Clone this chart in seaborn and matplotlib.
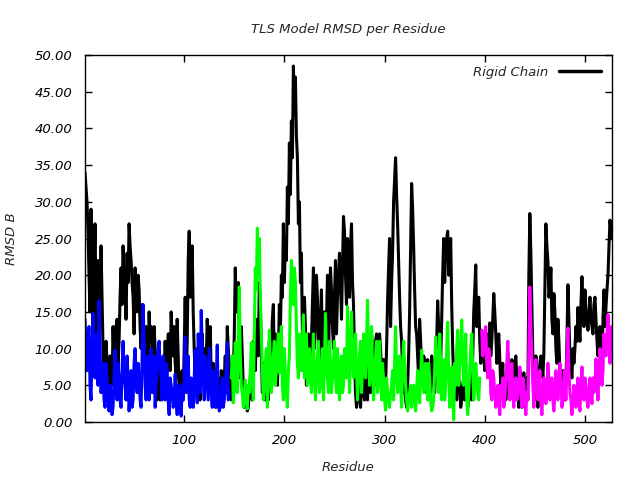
import numpy as np
import pandas as pd
import matplotlib
matplotlib.use("Agg")
import matplotlib.pyplot as plt
import seaborn as sns

# ---- data: RMSD per residue ----
# "odd" lists hold residues start, start+2, ...; "even" lists hold the residues in between.
rigid_start = 1
rigid_odd = [
    34, 30, 20, 29, 13, 27, 12, 18, 24, 10,
    5, 8, 3, 7, 13, 9, 14, 11, 21, 24,
    18, 23, 27, 22, 17, 21, 15, 18, 10, 14,
    9, 12, 15, 13, 6, 10, 3, 7, 4, 6,
    11, 8, 12, 15, 9,
    8, 14, 4, 6, 3, 17, 11, 26, 21, 15,
    6, 10, 5, 9, 7, 10, 14, 11, 6, 8,
    3, 5, 4, 7, 4, 9, 13, 8, 3, 6,
    21, 17, 9, 13, 5, 3, 1.5, 4, 8, 11,
    7, 14, 19, 10, 5,
    3, 6, 11, 10, 16, 12, 5, 16, 20, 27,
    25, 32, 38, 41, 48.5, 47, 36, 30, 23, 7,
    13, 10, 6, 11, 21, 14, 17, 6, 18, 12,
    8, 20, 15, 18, 10, 22, 17, 23, 14, 28,
    20, 25, 17, 27, 16,
    4, 8, 3, 5, 4, 7, 3, 6, 12, 8,
    11, 9, 12, 7, 8.5, 5, 16.5, 25, 19, 30,
    36, 27, 17, 11, 4, 3, 5, 15, 32.5, 24,
    13, 9, 14, 8, 9, 6, 8.5, 7, 9, 6,
    7, 16.5, 11, 14, 25,
    24, 26, 22, 16, 6, 4, 7, 5, 3, 6,
    4, 2, 5, 3, 15, 21.4, 16, 11, 12.5, 9,
    10.5, 8, 13.5, 11, 17.5, 12, 11, 8.5, 6, 4,
    3, 9.4, 7, 8.5, 6, 9, 4, 7, 2, 6.7,
    5, 3, 28.4, 16, 5, 9, 2, 8, 7.5, 9.4,
    27, 22, 18, 14, 17.5, 10, 14, 7, 4, 6,
    5, 18.7, 9, 6, 8, 13, 15.6, 11, 19.8, 13,
    15, 12.5, 17, 13, 16, 14, 9, 13, 8, 18,
    15.7, 20, 27.5, 25,
]
rigid_even = [
    32, 26, 15, 22, 20, 16, 22, 14, 17, 7,
    11, 4, 9, 5, 8, 13, 8, 17, 16, 20,
    14, 19, 24, 19, 12, 18, 20, 13, 16, 7,
    13, 8, 11, 9, 13, 5, 9, 3, 8, 4,
    5, 12, 7, 11,
    13, 6, 9, 2, 7, 10, 6, 22, 17, 24,
    10, 4, 8, 3, 12, 5, 8, 10, 13, 4,
    7, 2, 6, 2, 5, 6, 4, 10, 5, 8,
    12, 15, 19, 6, 9, 2, 5, 2, 6, 3,
    10, 12, 9, 16, 4,
    8, 7, 3, 5, 14, 7, 10, 9, 12, 17,
    19, 22, 27, 31, 36, 42, 39, 27, 19, 12,
    17, 5, 12, 8, 16, 10, 20, 11, 14, 8,
    15, 13, 9, 21, 13, 17, 12, 20, 19, 21,
    26, 16, 22, 24, 19,
    9, 2, 6, 2, 7, 3, 5, 8, 4, 10,
    5, 12, 6, 10, 4, 8, 10, 21, 13, 23,
    33, 31, 22, 13, 7, 5, 2, 9, 24, 29,
    18, 12, 6, 11, 6, 8.5, 4, 6, 4, 8,
    4, 11, 13, 8, 20,
    19, 25, 20, 25, 10, 7, 3, 6, 2, 5,
    3, 6, 3, 7, 9, 18, 13, 17, 8, 11,
    7, 12, 10, 9, 14, 15, 8, 12, 5, 8,
    6, 5, 6, 4, 5, 8, 6, 2, 5, 4,
    2, 6, 20, 23, 9, 3, 7, 5, 9, 6,
    18, 24, 17, 21, 12, 15, 8, 11, 5, 7,
    3, 11, 14, 7, 10, 10, 11, 13, 16, 15,
    18, 14, 15, 14, 12, 17, 11, 12, 10, 14,
    13, 18, 24, 26,
]

tls1_start = 1
tls1_odd = [
    14, 7, 13, 3, 14.8, 6, 9, 16.5, 4, 8,
    2, 6, 1.5, 4, 2, 9.8, 3, 6, 2, 11,
    5, 9, 1.5, 7, 3, 10, 4, 6, 2, 16,
    5, 9, 3, 10, 6, 2, 8, 11, 6, 9,
    3, 7, 1, 5, 2, 6.5, 1, 4, 0.8, 3,
    11.6, 7, 3, 6, 2, 9.8, 2.6, 8, 15.2, 6,
    9, 5, 10, 4, 7, 2, 10.5, 1.5, 4, 2,
    4.5, 10.8, 4,
]
tls1_even = [
    10, 11, 5, 10, 9, 12, 5, 11, 6, 3,
    8, 3, 5, 1, 6, 5, 8, 3, 7, 6,
    3, 6, 4, 2, 8, 6, 8, 3, 9, 11,
    3, 6, 7, 4, 9, 5, 10, 7, 3, 5,
    8, 3, 6, 4, 3, 3, 5, 2, 5, 6,
    4, 9, 2, 5, 6, 5, 12, 4, 10, 3,
    7, 3, 7, 2, 5, 6, 3, 2, 6, 3,
    8, 3,
]

tls2_start = 147
tls2_odd = [
    6, 2.6, 10.8, 4, 18.4, 5, 2, 5.7, 1.8, 4,
    10.8, 3, 21, 26.4, 25, 12, 3, 8, 2, 12.5,
    4, 9, 5, 10, 6.7, 13, 3, 6, 2, 9,
    22, 16, 19, 8, 12, 7, 14.6, 9, 5, 10,
    4, 12, 3, 9, 4, 7, 3, 14.8, 6, 11,
    4, 8, 6, 10, 3, 9, 5, 8, 15.7, 4,
    15, 6, 12, 3, 9, 4, 12, 6, 16.6, 5,
    13, 3, 9, 4, 11, 3, 5.7, 1.6, 4, 2,
    5, 3, 13, 4, 9, 2, 11, 5, 1.5, 4,
    2, 5, 1.5, 7, 2.6, 9.8, 4, 8, 3, 6,
    1.5, 3, 11.6, 6, 12, 3, 8.5, 5, 13.6, 2,
    7.5, 0.3, 5, 12.5, 8, 13.9, 5, 12, 1, 6.7,
    12, 3, 8, 4, 6,
]
tls2_even = [
    9, 5, 7, 12, 9, 4, 3, 3, 5, 7,
    6, 12, 18, 20, 17, 7, 5, 10, 6, 8,
    6, 11, 7, 12, 8, 5, 10, 4, 7, 17,
    19, 21, 13, 6, 10, 11, 6, 12, 7, 6,
    8, 6, 6, 11, 5, 10, 8, 9, 4, 8,
    6, 11, 4, 7, 6, 4, 10, 6, 9, 9,
    10, 8, 7, 6, 11, 7, 9, 11, 10, 8,
    7, 6, 11, 7, 6, 8, 3, 6, 3, 4,
    7, 8, 7, 6, 5, 7, 8, 3, 3, 5,
    3, 3, 4, 5, 6, 7, 6, 5, 8, 3,
    2, 7, 9, 4, 8, 6, 3, 10, 7, 4,
    3, 8, 10, 5, 10, 9, 8, 3, 4, 10,
    7, 5, 6, 3,
]

tls3_start = 397
tls3_odd = [
    12.5, 10, 13, 6, 9, 3, 6, 2, 5, 1,
    4, 2, 6, 11, 3, 8, 2, 6, 4, 7.5,
    2, 5, 1, 3, 18.4, 9, 2, 8.5, 3, 7,
    1, 6, 2.5, 8, 3, 6, 1.5, 7, 3, 8,
    2, 5, 3, 12.8, 4, 1, 5, 2, 6, 1.5,
    7.5, 3, 5, 2, 6, 2.5, 4, 8.6, 3, 10,
    5, 12, 9, 14.6, 8, 11,
]
tls3_even = [
    9, 12, 8, 10, 4, 7, 4, 3, 3, 5,
    6, 3, 8, 6, 5, 4, 5, 3, 5, 4,
    6, 3, 4, 10, 13, 5, 6, 5, 4, 3,
    4, 5, 4, 6, 4, 3, 4, 5, 5, 6,
    3, 7, 9, 7, 3, 3, 4, 4, 3, 5,
    4, 6, 3, 4, 4, 6, 5, 6, 7, 8,
    7, 10, 12, 11, 13,
]

title = "TLS Model RMSD per Residue"
xlabel = "Residue"
ylabel = "RMSD B"
legend_label = "Rigid Chain"
yticks = [0, 5, 10, 15, 20, 25, 30, 35, 40, 45, 50]
xticks = [100, 200, 300, 400, 500]


def frame(start, odd, even, name):
    vals = np.empty(len(odd) + len(even))
    vals[0::2] = odd
    vals[1::2] = even
    res = start + np.arange(len(vals))
    return pd.DataFrame({"Residue": res, "RMSD": vals, "series": name})


df_rigid = frame(rigid_start, rigid_odd, rigid_even, "rigid")
segments = [
    (frame(tls1_start, tls1_odd, tls1_even, "tls1"), "#0000ff"),
    (frame(tls2_start, tls2_odd, tls2_even, "tls2"), "#00ff00"),
    (frame(tls3_start, tls3_odd, tls3_even, "tls3"), "#ff00ff"),
]

sns.set_style("ticks")
plt.rcParams["font.family"] = ["DejaVu Sans"]
plt.rcParams["font.style"] = "italic"

fig = plt.figure(figsize=(6.4, 4.8), dpi=100)
ax = fig.add_axes([85 / 640, 1 - 422 / 480, (612 - 85) / 640, (422 - 55) / 480])

sns.lineplot(data=df_rigid, x="Residue", y="RMSD", ax=ax, color="black",
             linewidth=2.2, estimator=None, sort=False, label=legend_label)
for d, c in segments:
    sns.lineplot(data=d, x="Residue", y="RMSD", ax=ax, color=c,
                 linewidth=2.2, estimator=None, sort=False, legend=False)

ax.set_xlim(1, 527)
ax.set_ylim(0, 50)
ax.set_xticks(xticks)
ax.set_yticks(yticks)
ax.set_yticklabels([f"{v:.2f}" for v in yticks])
ax.tick_params(direction="in", length=5, width=1, top=True, right=True,
               labelsize=9.5, pad=9, colors="black")
for s in ax.spines.values():
    s.set_visible(True)
    s.set_linewidth(1.0)
    s.set_color("black")

ax.set_title(title, fontsize=9.5, pad=16)
ax.set_xlabel(xlabel, fontsize=9.5, labelpad=10)
ax.set_ylabel(ylabel, fontsize=9.5, labelpad=12)

leg = ax.legend(loc="upper right", frameon=False, markerfirst=False,
                handlelength=3.2, fontsize=9.5, borderaxespad=0.4)
for h in leg.get_lines():
    h.set_linewidth(2.5)

fig.savefig("out.png", dpi=100)
